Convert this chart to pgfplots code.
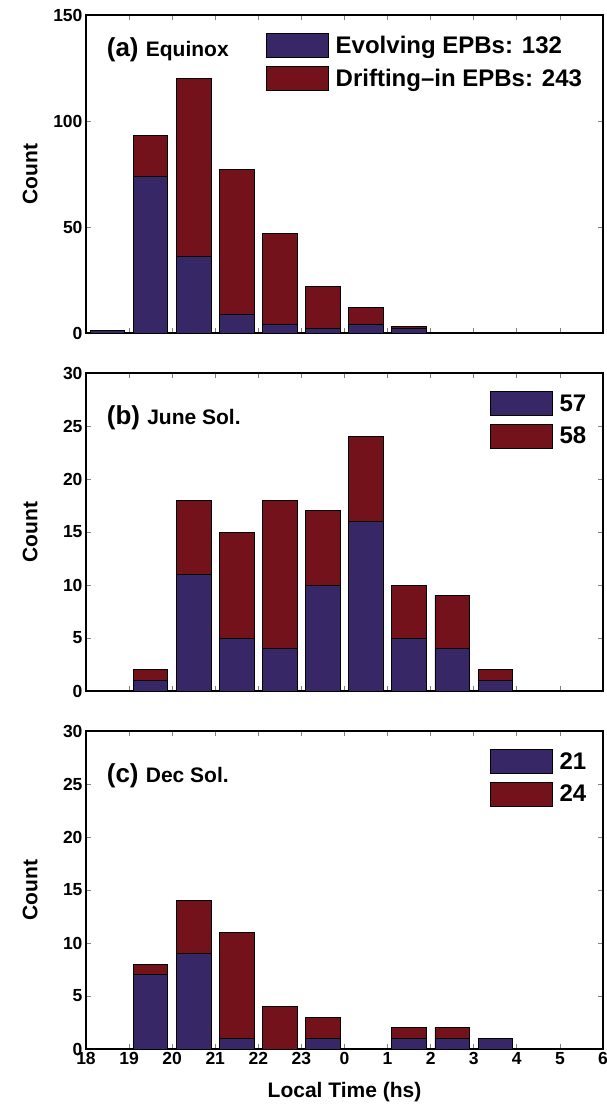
\documentclass[border=0pt]{standalone}
\usepackage{fontspec}
\setmainfont{Liberation Sans}
\usepackage{pgfplots}
\usepackage{pgfplotstable}
\pgfplotsset{compat=1.18}
\definecolor{evo}{RGB}{56,39,102}
\definecolor{dri}{RGB}{116,18,28}

\pgfplotstableread{
x evo dri
18.5 1 0
19.5 74 19
20.5 36 84
21.5 9 68
22.5 4 43
23.5 2 20
24.5 4 8
25.5 2 1
26.5 0 0
27.5 0 0
28.5 0 0
29.5 0 0
}\tabA
\pgfplotstableread{
x evo dri
18.5 0 0
19.5 1 1
20.5 11 7
21.5 5 10
22.5 4 14
23.5 10 7
24.5 16 8
25.5 5 5
26.5 4 5
27.5 1 1
28.5 0 0
29.5 0 0
}\tabB
\pgfplotstableread{
x evo dri
18.5 0 0
19.5 7 1
20.5 9 5
21.5 1 10
22.5 0 4
23.5 1 2
24.5 0 0
25.5 1 1
26.5 1 1
27.5 1 0
28.5 0 0
29.5 0 0
}\tabC

\pgfplotsset{
  patchlegend/.style={legend image code/.code={\draw[##1,draw=black,line width=0.8pt] (0pt,-12pt) rectangle (62pt,12pt);}},
  evobar/.style={fill=evo, draw=black, line width=0.8pt, patchlegend},
  dribar/.style={fill=dri, draw=black, line width=0.8pt, patchlegend},
  panel/.style={
    scale only axis, width=517pt, height=318pt,
    xmin=18, xmax=30, ymin=0,
    ybar stacked, bar width=0.8,
    xtick={18,...,30},
    tick align=inside, major tick length=5pt,
    axis line style={line width=1.3pt},
    every tick/.style={gray, line width=0.7pt},
    /pgf/number format/assume math mode=true,
    tick label style={font=\fontsize{17.5}{17.5}\selectfont\bfseries},
    ylabel={Count},
    ylabel style={at={(axis description cs:-0.108,0.5)}, anchor=center, font=\fontsize{21}{21}\selectfont\bfseries},
    legend style={draw=none, fill=none, inner sep=0pt, outer sep=0pt, row sep=8pt, column sep=7pt,
      font=\fontsize{24}{24}\selectfont\bfseries, nodes={inner sep=0pt}},
    legend cell align=left,
  },
}

\begin{document}
\begin{tikzpicture}
\begin{axis}[panel, at={(86pt,-15pt)}, anchor=north west,
  ymax=150, ytick={0,50,100,150}, xticklabels={},
  legend style={at={(0.348,0.943)}, anchor=north west}]
\addplot[evobar] table[x=x,y=evo] {\tabA};
\addplot[dribar] table[x=x,y=dri] {\tabA};
\legend{Evolving EPBs: 132, Drifting--in EPBs: 243}
\node[anchor=west, inner sep=0pt] at (rel axis cs:0.04,0.89) {\bfseries\fontsize{26}{26}\selectfont(a) \fontsize{21}{21}\selectfont Equinox};
\end{axis}

\begin{axis}[panel, at={(86pt,-373pt)}, anchor=north west,
  ymax=30, ytick={0,5,...,30}, xticklabels={},
  legend style={at={(0.781,0.943)}, anchor=north west}]
\addplot[evobar] table[x=x,y=evo] {\tabB};
\addplot[dribar] table[x=x,y=dri] {\tabB};
\legend{57, 58}
\node[anchor=west, inner sep=0pt] at (rel axis cs:0.04,0.86) {\bfseries\fontsize{26}{26}\selectfont(b) \fontsize{21}{21}\selectfont June Sol.};
\end{axis}

\begin{axis}[panel, at={(86pt,-731pt)}, anchor=north west,
  ymax=30, ytick={0,5,...,30},
  xticklabels={18,19,20,21,22,23,0,1,2,3,4,5,6},
  xlabel={Local Time (hs)},
  xlabel style={at={(axis description cs:0.5,-0.135)}, anchor=center, font=\fontsize{21}{21}\selectfont\bfseries},
  legend style={at={(0.781,0.943)}, anchor=north west}]
\addplot[evobar] table[x=x,y=evo] {\tabC};
\addplot[dribar] table[x=x,y=dri] {\tabC};
\legend{21, 24}
\node[anchor=west, inner sep=0pt] at (rel axis cs:0.04,0.86) {\bfseries\fontsize{26}{26}\selectfont(c) \fontsize{21}{21}\selectfont Dec Sol.};
\end{axis}
\pgfresetboundingbox
\path[use as bounding box] (0,0) rectangle (606pt,-1105pt);
\end{tikzpicture}
\end{document}
